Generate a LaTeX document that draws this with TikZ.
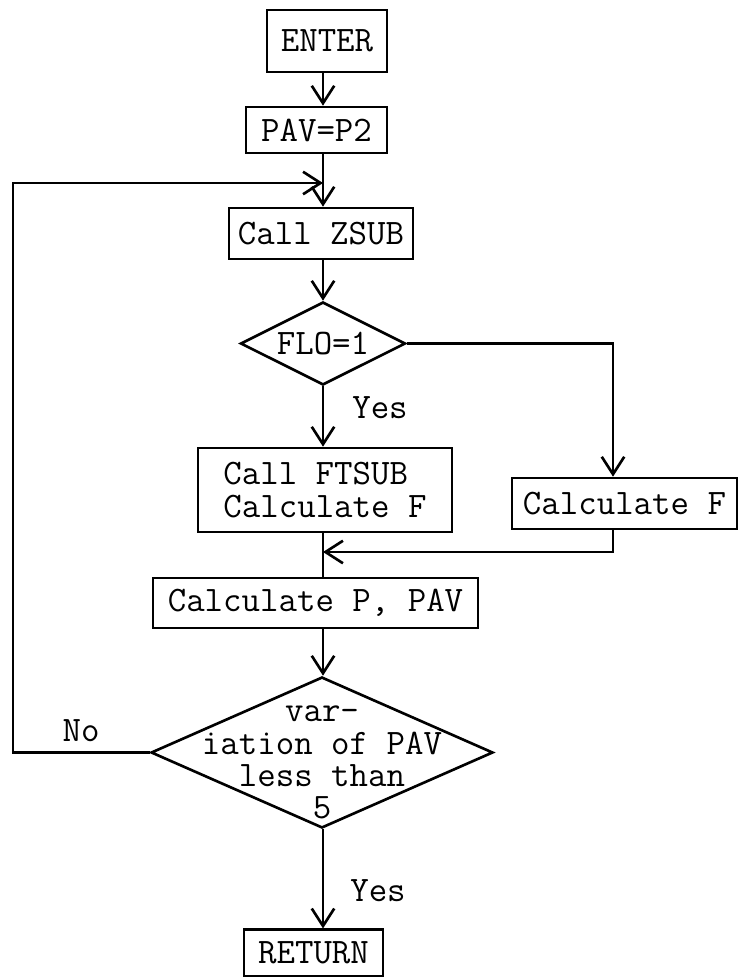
\documentclass[tikz,border=0pt]{standalone}
\usepackage{fontspec}
\usepackage{tikz}
\usetikzlibrary{shapes.geometric,arrows.meta,calc}
\tikzstyle{tsText} = [
    text=black,
    font=\ttfamily\fontsize{20.4}{18.4}\selectfont
]
\tikzstyle{tsRectangle} = [
    rectangle,
    tsText,
    align=center,
    inner sep=0pt,
    draw=black,
    line width=1.5pt]
\tikzstyle{tsDecision} = [
    diamond,
    inner sep=0pt,
    draw=black,
    line width=1.5pt]
\tikzstyle{tsLine} = [
    draw=black,
    line width=1.5pt]
\tikzstyle{tsArrow} = [
    tsLine,
    -{Straight Barb[length=3.5mm,width=4.5mm]}]

\begin{document}
\begin{tikzpicture}

        \useasboundingbox (0,0) rectangle (14.78,-19.54);

        % boxes of the main column
        \node[tsRectangle, minimum width=2.4cm, minimum height=1.24cm] (enter) at (6.54,-0.82) {ENTER};
        \node[tsRectangle, minimum width=2.82cm, minimum height=0.92cm] (pav) at (6.33,-2.6) {PAV=P2};
        \node[tsRectangle, minimum width=3.68cm, minimum height=1.02cm] (zsub) at (6.42,-4.67) {Call ZSUB};
        \node[tsDecision, minimum width=3.3cm, minimum height=1.66cm,
              label={[tsText]center:FLO=1}] (flo) at (6.46,-6.87) {};
        \node[tsRectangle, align=left, minimum width=5.08cm, minimum height=1.68cm] (ftsub) at (6.5,-9.8) {Call FTSUB\\Calculate F};
        \node[tsRectangle, minimum width=4.5cm, minimum height=1.02cm] (calcf) at (12.49,-10.07) {Calculate F};
        \node[tsRectangle, minimum width=6.5cm, minimum height=1.0cm] (calcp) at (6.31,-12.06) {Calculate P, PAV};
        \node[tsDecision, minimum width=6.84cm, minimum height=3.02cm,
              label={[tsText, align=center, yshift=-0.2cm]center:{var-\\iation of PAV\\less than\\5}}] (vary) at (6.44,-15.05) {};
        \node[tsRectangle, minimum width=2.78cm, minimum height=0.93cm] (ret) at (6.27,-19.06) {RETURN};

        % labels
        \node[tsText] (yesflo) at (7.6,-8.16) {Yes};
        \node[tsText] (yesvary) at (7.56,-17.82) {Yes};
        \node[tsText] (novary) at (1.62,-14.62) {No};

        % turning points
        \coordinate (loopin) at (6.46,-3.66);
        \coordinate (loopcorner) at (0.26,-3.66);
        \coordinate (fbranch) at (12.26,-6.87);
        \coordinate (fjoin) at (12.26,-11.04);

        % connectors
        \draw[tsArrow] (enter.south -| loopin) -- (pav.north -| loopin);
        \draw[tsArrow] (pav.south -| loopin) -- (zsub.north -| loopin);
        \draw[tsArrow] (vary.west) -- (vary.west -| loopcorner) -- (loopcorner) -- (loopin);
        \draw[tsArrow] (zsub.south -| flo.north) -- (flo.north);
        \draw[tsArrow] (flo.south) -- (flo.south |- ftsub.north);
        \draw[tsArrow] (flo.east) -- (fbranch) -- (fbranch |- calcf.north);
        \draw[tsArrow] (fjoin |- calcf.south) -- (fjoin) -- (fjoin -| loopin);
        \draw[tsLine] (ftsub.south -| loopin) -- (calcp.north -| loopin);
        \draw[tsArrow] (calcp.south -| loopin) -- (vary.north -| loopin);
        \draw[tsArrow] (vary.south -| loopin) -- (ret.north -| loopin);

\end{tikzpicture}
\end{document}
